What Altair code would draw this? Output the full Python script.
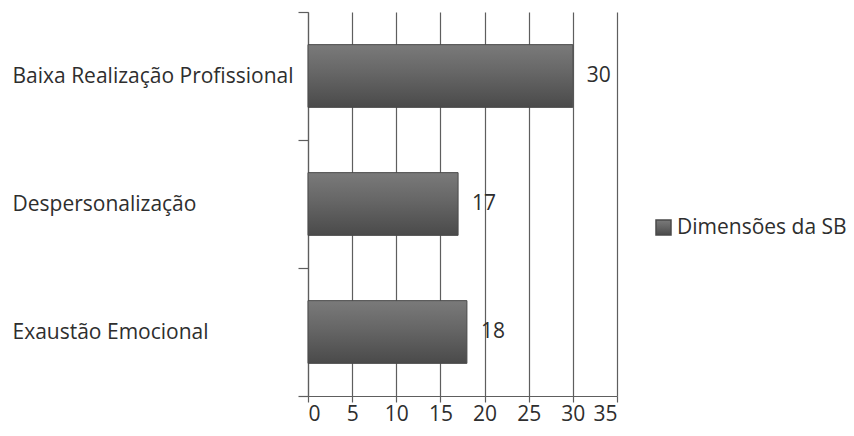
import altair as alt
import pandas as pd

categorias = ["Baixa Realização Profissional", "Despersonalização", "Exaustão Emocional"]
valores = [30, 17, 18]
serie = ["Dimensões da SB"] * 3
x_ticks = [0, 5, 10, 15, 20, 25, 30, 35]

df = pd.DataFrame({"categoria": categorias, "valor": valores, "serie": serie})

FONT = "Open Sans"
TXT = "#2e2e2e"
GRID = "#5e5e5e"

grad = alt.Gradient(
    gradient="linear",
    stops=[
        alt.GradientStop(color="#7a7a7a", offset=0),
        alt.GradientStop(color="#666666", offset=0.45),
        alt.GradientStop(color="#4a4a4a", offset=1),
    ],
    x1=0, x2=0, y1=0, y2=1,
)

y_enc = alt.Y(
    "categoria:N",
    sort=categorias,
    title=None,
    scale=alt.Scale(paddingInner=0, paddingOuter=0),
    axis=alt.Axis(
        tickBand="extent",
        tickSize=10,
        tickColor=GRID,
        tickWidth=1.2,
        domainColor=GRID,
        domainWidth=1.2,
        labelAlign="left",
        labelPadding=286,
        labelFont=FONT,
        labelFontSize=21,
        labelColor=TXT,
        labelLimit=0,
        grid=False,
    ),
)

x_enc = alt.X(
    "valor:Q",
    title=None,
    scale=alt.Scale(domain=[0, 35], nice=False),
    axis=alt.Axis(
        values=x_ticks,
        tickSize=6,
        tickColor=GRID,
        tickWidth=1.2,
        domainColor=GRID,
        domainWidth=1.2,
        gridColor=GRID,
        gridWidth=1.2,
        gridOpacity=1,
        labelFont=FONT,
        labelFontSize=21,
        labelColor=TXT,
        labelPadding=1,
    ),
)

bars = alt.Chart(df).mark_bar(
    fill=grad, strokeWidth=1, height=alt.RelativeBandSize(0.49)
).encode(
    x=x_enc,
    y=y_enc,
    stroke=alt.Stroke(
        "serie:N",
        scale=alt.Scale(range=["#4a4a4a"]),
        legend=alt.Legend(
            title=None,
            orient="none",
            legendX=345,
            legendY=205,
            padding=0,
            symbolType="square",
            symbolFillColor="#555555",
            symbolStrokeColor="#4a4a4a",
            symbolSize=225,
            symbolOffset=0,
            labelFont=FONT,
            labelFontSize=21,
            labelColor=TXT,
            labelOffset=3,
            labelLimit=0,
        ),
    ),
)

labels = alt.Chart(df).mark_text(
    align="left", dx=14, font=FONT, fontSize=21, color=TXT
).encode(
    x="valor:Q",
    y=alt.Y("categoria:N", sort=categorias),
    text="valor:Q",
)

chart = (
    alt.layer(bars, labels)
    .properties(
        width=309,
        height=384,
        autosize=alt.AutoSizeParams(type="none"),
        padding={"left": 308, "top": 12, "right": 237, "bottom": 40},
        background="white",
    )
    .configure_view(stroke=None)
)

chart.save("out.html", embed_options={"renderer": "svg", "actions": False})
